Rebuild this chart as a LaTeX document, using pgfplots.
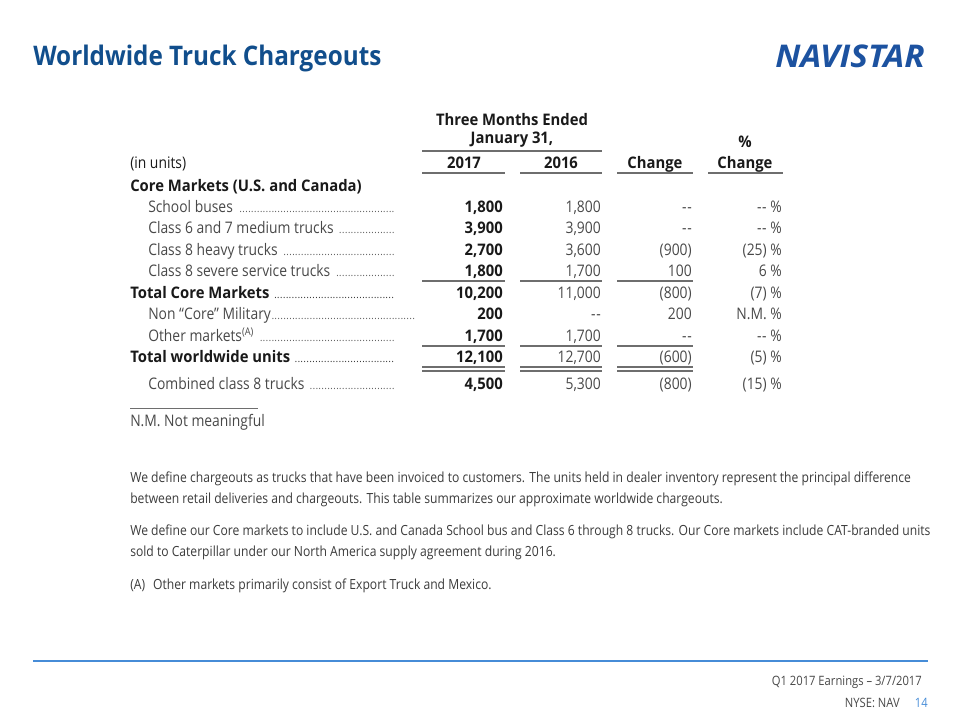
\documentclass[border=0pt]{standalone}
\usepackage{pgfplots}
\pgfplotsset{compat=1.18}
\usepackage{graphicx}
\usepackage{fontspec}
\setmainfont{Open Sans}[FakeStretch=0.87, BoldFeatures={FakeStretch=0.93}]
\newfontfamily\tfont{Open Sans}[FakeStretch=0.9]
\definecolor{navy}{RGB}{17,78,140}
\definecolor{logo}{RGB}{28,82,160}
\definecolor{dk}{RGB}{25,25,25}
\definecolor{gr}{RGB}{72,72,72}
\definecolor{rl}{RGB}{110,110,110}
\definecolor{foot}{RGB}{70,140,215}
\newcommand\tb{\fontsize{12}{14}\selectfont}
\newcommand\pf{\fontsize{10.5}{13}\selectfont}
\protected\def\dd{-\kern0.5pt-}
\protected\def\pc{\ \%}
\newcommand\lead[2]{\makebox[#1][l]{#2\leaders\hbox to 2.2bp{\hss{\fontsize{7.5}{7}\selectfont.}\hss}\hfill}}
\begin{document}
\begin{tikzpicture}
\begin{axis}[scale only axis, width=720bp, height=540bp,
  xmin=0, xmax=960, ymin=0, ymax=720, y dir=reverse,
  hide axis, clip=false]
\path (axis cs:0,0) rectangle (axis cs:960,720);
% title and logo
\node[anchor=base west, inner sep=0pt, text=navy, font=\tfont\fontsize{20.3}{24}\selectfont\bfseries] at (axis cs:33,65) {Worldwide Truck Chargeouts};
\node[anchor=south west, inner sep=0pt, text=logo] at (axis cs:775,68) {\resizebox{112bp}{17bp}{\bfseries\itshape NAVISTAR}};
% header
\node[anchor=base, inner sep=0pt, text=dk, font=\tb\bfseries] at (axis cs:512,125) {Three Months Ended};
\node[anchor=base, inner sep=0pt, text=dk, font=\tb\bfseries] at (axis cs:512,143) {January 31,};
\node[anchor=base, inner sep=0pt, text=dk, font=\tb\bfseries] at (axis cs:745,147) {\%};
\node[anchor=base west, inner sep=0pt, text=dk, font=\tb] at (axis cs:130,168) {(in units)};
\node[anchor=base, inner sep=0pt, text=dk, font=\tb\bfseries] at (axis cs:464,168) {2017};
\node[anchor=base, inner sep=0pt, text=dk, font=\tb\bfseries] at (axis cs:561,168) {2016};
\node[anchor=base, inner sep=0pt, text=dk, font=\tb\bfseries] at (axis cs:655,168) {Change};
\node[anchor=base, inner sep=0pt, text=dk, font=\tb\bfseries] at (axis cs:745,168) {Change};
\draw[rl, line width=1.5bp] (axis cs:422,151) -- (axis cs:602,151);
\draw[rl, line width=1.2bp] (axis cs:422,173) -- (axis cs:505,173);
\draw[rl, line width=1.2bp] (axis cs:520,173) -- (axis cs:602,173);
\draw[rl, line width=1.2bp] (axis cs:617,173) -- (axis cs:693,173);
\draw[rl, line width=1.2bp] (axis cs:708,173) -- (axis cs:783,173);
\draw[rl, line width=1bp] (axis cs:422,281) -- (axis cs:505,281);
\draw[rl, line width=1bp] (axis cs:520,281) -- (axis cs:602,281);
\draw[rl, line width=1bp] (axis cs:617,281) -- (axis cs:693,281);
\draw[rl, line width=1bp] (axis cs:422,346) -- (axis cs:505,346);
\draw[rl, line width=1bp] (axis cs:520,346) -- (axis cs:602,346);
\draw[rl, line width=1bp] (axis cs:617,346) -- (axis cs:693,346);
\draw[rl, line width=1bp] (axis cs:422,367) -- (axis cs:505,367);
\draw[rl, line width=1bp] (axis cs:520,367) -- (axis cs:602,367);
\draw[rl, line width=1bp] (axis cs:617,367) -- (axis cs:693,367);
\draw[rl, line width=1bp] (axis cs:422,371) -- (axis cs:505,371);
\draw[rl, line width=1bp] (axis cs:520,371) -- (axis cs:602,371);
\draw[rl, line width=1bp] (axis cs:617,371) -- (axis cs:693,371);
% row labels
\node[anchor=base west, inner sep=0pt, text=dk, font=\tb\bfseries] at (axis cs:130,191) {Core Markets (U.S. and Canada)};
\node[anchor=base west, inner sep=0pt, text=gr, font=\tb] at (axis cs:148,212) {\lead{186bp}{School buses }};
\node[anchor=base west, inner sep=0pt, text=gr, font=\tb] at (axis cs:148,233) {\lead{186bp}{Class 6 and 7 medium trucks }};
\node[anchor=base west, inner sep=0pt, text=gr, font=\tb] at (axis cs:148,255) {\lead{186bp}{Class 8 heavy trucks }};
\node[anchor=base west, inner sep=0pt, text=gr, font=\tb] at (axis cs:148,276) {\lead{186bp}{Class 8 severe service trucks }};
\node[anchor=base west, inner sep=0pt, text=dk, font=\tb] at (axis cs:130,298) {\lead{199.5bp}{\textbf{Total Core Markets} }};
\node[anchor=base west, inner sep=0pt, text=gr, font=\tb] at (axis cs:148,319) {\lead{201.5bp}{Non “Core” Military}};
\node[anchor=base west, inner sep=0pt, text=gr, font=\tb] at (axis cs:148,341) {\lead{186bp}{Other markets\textsuperscript{(A)} }};
\node[anchor=base west, inner sep=0pt, text=dk, font=\tb] at (axis cs:130,362) {\lead{199.5bp}{\textbf{Total worldwide units} }};
\node[anchor=base west, inner sep=0pt, text=gr, font=\tb] at (axis cs:148,389) {\lead{186bp}{Combined class 8 trucks }};
% numbers
\addplot[draw=none, mark=none, nodes near coords, point meta=explicit symbolic,
  nodes near coords style={anchor=base east, inner sep=0pt, font=\tb\bfseries, text=dk}]
  table[meta=l] {
x y l
503 212 {1,800}
503 233 {3,900}
503 255 {2,700}
503 276 {1,800}
503 298 {10,200}
503 319 {200}
503 341 {1,700}
503 362 {12,100}
503 389 {4,500}
};
\addplot[draw=none, mark=none, nodes near coords, point meta=explicit symbolic,
  nodes near coords style={anchor=base east, inner sep=0pt, font=\tb, text=gr}]
  table[meta=l] {
x y l
601 212 {1,800}
601 233 {3,900}
601 255 {3,600}
601 276 {1,700}
601 298 {11,000}
601 319 {\dd}
601 341 {1,700}
601 362 {12,700}
601 389 {5,300}
};
\addplot[draw=none, mark=none, nodes near coords, point meta=explicit symbolic,
  nodes near coords style={anchor=base east, inner sep=0pt, font=\tb, text=gr}]
  table[meta=l] {
x y l
692 212 {\dd}
692 233 {\dd}
692 255 {(900)}
692 276 {100}
692 298 {(800)}
692 319 {200}
692 341 {\dd}
692 362 {(600)}
692 389 {(800)}
};
\addplot[draw=none, mark=none, nodes near coords, point meta=explicit symbolic,
  nodes near coords style={anchor=base east, inner sep=0pt, font=\tb, text=gr}]
  table[meta=l] {
x y l
782 212 {\dd\pc}
782 233 {\dd\pc}
782 255 {(25)\pc}
782 276 {6\pc}
782 298 {(7)\pc}
782 319 {N.M.\pc}
782 341 {\dd\pc}
782 362 {(5)\pc}
782 389 {(15)\pc}
};
% footnote
\draw[rl, line width=0.6bp] (axis cs:130,408) -- (axis cs:258,408);
\node[anchor=base west, inner sep=0pt, text=gr, font=\tb] at (axis cs:130,426) {N.M. Not meaningful};
% paragraphs
\node[anchor=base west, inner sep=0pt, text=dk!85, font=\pf] at (axis cs:130,482) {We define chargeouts as trucks that have been invoiced to customers. The units held in dealer inventory represent the principal difference};
\node[anchor=base west, inner sep=0pt, text=dk!85, font=\pf] at (axis cs:130,503) {between retail deliveries and chargeouts. This table summarizes our approximate worldwide chargeouts.};
\node[anchor=base west, inner sep=0pt, text=dk!85, font=\pf] at (axis cs:130,535) {We define our Core markets to include U.S. and Canada School bus and Class 6 through 8 trucks. Our Core markets include CAT-branded units};
\node[anchor=base west, inner sep=0pt, text=dk!85, font=\pf] at (axis cs:130,556) {sold to Caterpillar under our North America supply agreement during 2016.};
\node[anchor=base west, inner sep=0pt, text=dk!85, font=\pf] at (axis cs:130,589) {(A)\hspace{6bp}Other markets primarily consist of Export Truck and Mexico.};
% footer
\draw[foot, line width=2.2bp] (axis cs:33,661) -- (axis cs:928,661);
\node[anchor=base east, inner sep=0pt, text=gr, font=\fontsize{9.7}{11}\selectfont] at (axis cs:922,685) {Q1 2017 Earnings – 3/7/2017};
\node[anchor=base east, inner sep=0pt, text=gr, font=\fontsize{9.7}{11}\selectfont] at (axis cs:900,707) {NYSE: NAV};
\node[anchor=base east, inner sep=0pt, text=foot, font=\fontsize{9.7}{11}\selectfont] at (axis cs:928,707) {14};
\end{axis}
\end{tikzpicture}
\end{document}
